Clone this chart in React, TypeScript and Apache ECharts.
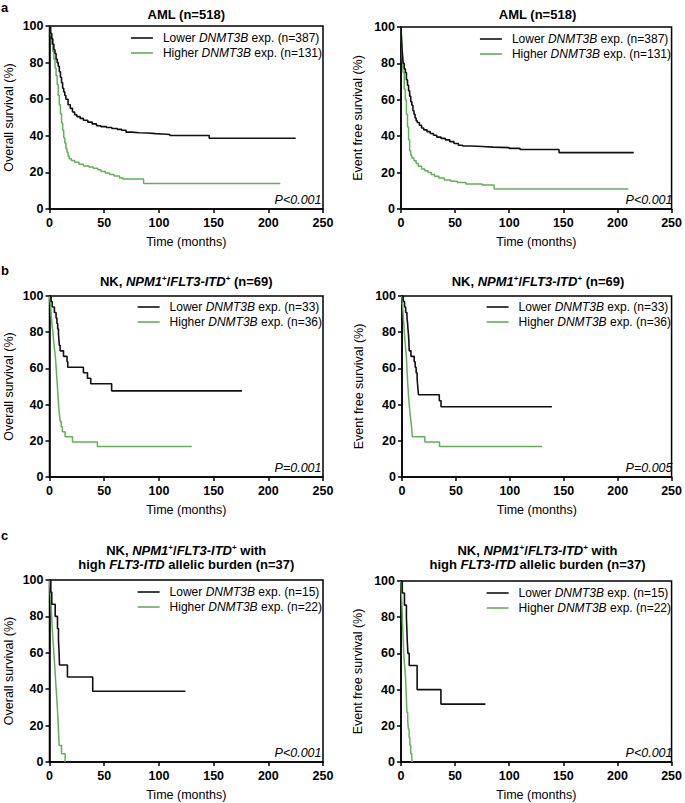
import React, { useEffect, useRef } from "react";
import * as echarts from "echarts";

const FONT = "'Liberation Sans', Arial, Helvetica, sans-serif";
const BLACK = "#111111";
const GREEN = "#62b058";

// x-axis (months) and y-axis (%) ticks
const xTicks = [0, 50, 100, 150, 200, 250];
const yTicks = [0, 20, 40, 60, 80, 100];

// ---- Panel a: AML (n=518) ----
const osA_lower: number[][] = [
  [0, 100], [1, 96], [2, 93], [3, 90], [4, 87], [5, 85], [6, 82], [7, 80], [8, 78], [9, 75],
  [10, 72], [11, 69], [12, 66], [13, 64], [14, 62], [15, 60], [17, 57], [19, 55], [21, 53],
  [23, 51.5], [25, 50.5], [28, 49.5], [31, 48.5], [35, 47.5], [39, 46.5], [43, 45.5], [47, 45],
  [52, 44.5], [57, 44], [62, 43.5], [66, 43], [70, 42], [75, 41.7], [82, 41.5], [90, 41.2],
  [97, 41], [103, 40.7], [110, 40.2], [146, 38.7], [225, 38.7],
];
const osA_higher: number[][] = [
  [0, 100], [1, 95], [2, 90], [3, 86], [4, 82], [5, 77], [6, 73], [7, 68], [8, 62], [9, 57],
  [10, 52], [11, 47], [12, 43], [13, 39], [14, 36], [15, 33], [16, 31], [17, 29], [18, 27.5],
  [20, 26.5], [23, 25.5], [27, 24.5], [31, 23.5], [36, 23], [40, 22.2], [44, 21.5], [47, 20.5],
  [51, 19.7], [55, 18.8], [59, 18], [64, 17], [67, 16.4], [86, 14], [211, 14],
];
const efsA_lower: number[][] = [
  [0, 100], [0.5, 93], [1, 88], [1.5, 84], [2, 80], [3, 77], [4, 75], [5, 71], [6, 68], [7, 65],
  [8, 62], [9, 59], [10, 57], [11, 54], [12, 52], [13, 50], [14, 48.5], [15, 47.5], [17, 46],
  [19, 44.5], [21, 43.5], [24, 42.5], [27, 41.5], [30, 40.5], [33, 39.5], [37, 38.8], [41, 38],
  [45, 37], [49, 36], [53, 35], [57, 34.6], [65, 34.3], [75, 34], [85, 33.7], [100, 33.3],
  [110, 32.7], [146, 31], [215, 31],
];
const efsA_higher: number[][] = [
  [0, 100], [0.5, 92], [1, 85], [1.5, 80], [2, 75], [3, 66], [4, 60], [5, 52], [6, 45], [7, 38],
  [8, 32], [9, 29.5], [10, 28], [12, 26.5], [14, 25], [16, 23.5], [19, 22], [22, 21], [25, 20],
  [28, 19], [31, 18], [35, 17], [40, 16], [46, 15.2], [52, 14.5], [60, 13.8], [75, 13.2],
  [86, 11], [210, 11],
];

// ---- Panel b: NK, NPM1+/FLT3-ITD+ (n=69) ----
const osB_lower: number[][] = [
  [0, 100], [1.5, 96.97], [2.5, 93.94], [4.5, 90.91], [6, 87.88], [6.8, 84.85], [7.5, 81.82],
  [8.2, 78.79], [8.6, 75.76], [9, 72.73], [9.7, 69.7], [12.8, 66.67], [16, 63.64], [16.7, 60.61],
  [31, 57.58], [34.7, 54.55], [37.7, 51.52], [56.8, 47.6], [176, 47.6],
];
const osB_higher: number[][] = [
  [0, 100], [0.5, 97.2], [1, 94.4], [1.3, 91.7], [1.6, 88.9], [2, 86.1], [2.5, 83.3], [3, 80.6],
  [3.4, 77.8], [3.8, 75], [4.3, 72.2], [4.8, 69.4], [5.3, 66.7], [5.7, 63.9], [6, 61.1],
  [6.3, 58.3], [6.6, 55.6], [6.9, 52.8], [7.2, 50], [7.5, 47.2], [7.8, 44.4], [8.1, 41.7],
  [8.4, 38.9], [8.8, 36.1], [9.3, 33.3], [9.9, 30.6], [10.7, 27.8], [11.8, 25], [14.3, 22.2],
  [21, 19.4], [43.8, 16.9], [130, 16.9],
];
const efsB_lower: number[][] = [
  [0, 100], [1.2, 96.97], [2.4, 93.94], [3.4, 90.91], [4.6, 87.88], [5.2, 84.85], [5.5, 81.82],
  [6, 78.79], [6.3, 75.76], [6.5, 72.73], [6.7, 69.7], [8.3, 66.67], [11.3, 63.64], [12.2, 60.61],
  [13.1, 57.58], [14, 54.55], [14.4, 51.52], [14.8, 48.48], [15.3, 45.45], [34.6, 42.1],
  [36.2, 38.8], [139, 38.8],
];
const efsB_higher: number[][] = [
  [0, 100], [0.3, 97.2], [0.6, 94.4], [0.9, 91.7], [1.2, 88.9], [1.5, 86.1], [1.8, 83.3],
  [2.1, 80.6], [2.4, 77.8], [2.8, 75], [3.2, 72.2], [3.6, 69.4], [4, 66.7], [4.3, 63.9],
  [4.5, 61.1], [4.7, 58.3], [5, 55.6], [5.2, 52.8], [5.5, 50], [5.8, 47.2], [6.1, 44.4],
  [6.5, 41.7], [6.9, 38.9], [7.3, 36.1], [7.8, 33.3], [8.3, 30.6], [8.8, 27.8], [9.2, 25],
  [9.6, 22.2], [21.2, 19.4], [34.8, 16.9], [130, 16.9],
];

// ---- Panel c: high FLT3-ITD allelic burden (n=37) ----
const osC_lower: number[][] = [
  [0, 100], [1.2, 93.33], [2.1, 86.67], [5.2, 80], [7.3, 73.33], [8.2, 66.67], [8.8, 60],
  [9.1, 53.33], [16.4, 46.67], [39.5, 38.9], [124.3, 38.9],
];
const osC_higher: number[][] = [
  [0, 100], [0.5, 95.45], [1, 90.9], [1.5, 86.4], [1.8, 81.8], [2.2, 77.3], [2.6, 72.7],
  [3, 68.2], [3.6, 63.6], [4.1, 59.1], [4.6, 54.5], [5.1, 50], [5.5, 45.5], [6, 40.9],
  [6.5, 36.4], [7, 31.8], [7.4, 27.3], [7.8, 22.7], [8.1, 18.2], [8.5, 13.6], [8.8, 9.1],
  [11, 4.5], [14.3, 0],
];
const efsC_lower: number[][] = [
  [0, 100], [1.2, 93.33], [3.2, 86.67], [5, 80], [5.4, 73.33], [5.8, 66.67], [6.4, 60],
  [7.6, 53.33], [14.9, 40], [36.9, 32], [78, 32],
];
const efsC_higher: number[][] = [
  [0, 100], [0.3, 95.45], [0.6, 90.9], [0.9, 86.4], [1.2, 81.8], [1.4, 77.3], [1.7, 72.7],
  [2, 68.2], [2.3, 63.6], [2.6, 59.1], [3.2, 54.5], [3.8, 50], [4.3, 45.5], [4.6, 40.9],
  [4.9, 36.4], [5.2, 31.8], [5.5, 27.3], [6.2, 22.7], [6.8, 18.2], [7.5, 13.6], [8.2, 9.1],
  [9, 4.5], [10, 0],
];

// legend labels
const lowerA = "Lower DNMT3B exp. (n=387)";
const higherA = "Higher DNMT3B exp. (n=131)";
const lowerB = "Lower DNMT3B exp. (n=33)";
const higherB = "Higher DNMT3B exp. (n=36)";
const lowerC = "Lower DNMT3B exp. (n=15)";
const higherC = "Higher DNMT3B exp. (n=22)";

const titleA = "{b|AML (n=518)}";
const titleB = "{b|NK, }{bi|NPM1}{sup|+}{b|/}{bi|FLT3-ITD}{sup|+}{b| (n=69)}";
const titleC =
  "{b|NK, }{bi|NPM1}{sup|+}{b|/}{bi|FLT3-ITD}{sup|+}{b| with}\n{b|high }{bi|FLT3-ITD}{b| allelic burden (n=37)}";

const OS = "Overall survival (%)";
const EFS = "Event free survival (%)";

const panels = [
  { grid: { left: 49.5, top: 26, width: 273.5, height: 183 }, yName: OS, yGap: 34, lower: osA_lower, higher: osA_higher, ln: lowerA, hn: higherA, legendTop: 31, legendRight: 363, title: titleA, titleY: 14, p: "P<0.001" },
  { grid: { left: 401, top: 27, width: 273, height: 182 }, yName: EFS, yGap: 37, lower: efsA_lower, higher: efsA_higher, ln: lowerA, hn: higherA, legendTop: 32, legendRight: 14, title: titleA, titleY: 14, p: "P<0.001" },
  { grid: { left: 49.5, top: 296, width: 273.5, height: 181 }, yName: OS, yGap: 34, lower: osB_lower, higher: osB_higher, ln: lowerB, hn: higherB, legendTop: 300, legendRight: 363, title: titleB, titleY: 281, p: "P=0.001" },
  { grid: { left: 402, top: 296, width: 272, height: 181 }, yName: EFS, yGap: 37, lower: efsB_lower, higher: efsB_higher, ln: lowerB, hn: higherB, legendTop: 300, legendRight: 14, title: titleB, titleY: 281, p: "P=0.005" },
  { grid: { left: 49.5, top: 580, width: 273.5, height: 182 }, yName: OS, yGap: 34, lower: osC_lower, higher: osC_higher, ln: lowerC, hn: higherC, legendTop: 585, legendRight: 363, title: titleC, titleY: 557, p: "P<0.001" },
  { grid: { left: 401, top: 581, width: 273, height: 181 }, yName: EFS, yGap: 37, lower: efsC_lower, higher: efsC_higher, ln: lowerC, hn: higherC, legendTop: 586, legendRight: 14, title: titleC, titleY: 557, p: "P<0.001" },
];

const titleRich = {
  b: { fontFamily: FONT, fontSize: 13, fontWeight: "bold", fill: "#000", lineHeight: 14 },
  bi: { fontFamily: FONT, fontSize: 13, fontWeight: "bold", fontStyle: "italic", fill: "#000", lineHeight: 14 },
  sup: { fontFamily: FONT, fontSize: 8, fontWeight: "bold", fill: "#000", verticalAlign: "top" },
};

function buildOption() {
  const grid: any[] = [];
  const xAxis: any[] = [];
  const yAxis: any[] = [];
  const series: any[] = [];
  const legend: any[] = [];
  const graphic: any[] = [];

  panels.forEach((p, i) => {
    grid.push({ ...p.grid, show: true, borderColor: "#000", borderWidth: 1.5, backgroundColor: "transparent" });
    xAxis.push({
      gridIndex: i, type: "value", min: xTicks[0], max: xTicks[xTicks.length - 1], interval: 50,
      axisLine: { show: true, onZero: false, lineStyle: { color: "#000", width: 1.5 } },
      axisTick: { show: true, length: 4, lineStyle: { color: "#000", width: 1.5 } },
      axisLabel: { color: "#000", fontWeight: "bold", fontSize: 12.5, fontFamily: FONT, margin: 7 },
      splitLine: { show: false },
      name: "Time (months)", nameLocation: "middle", nameGap: 26,
      nameTextStyle: { color: "#000", fontSize: 12.5, fontFamily: FONT },
    });
    yAxis.push({
      gridIndex: i, type: "value", min: yTicks[0], max: yTicks[yTicks.length - 1], interval: 20,
      axisLine: { show: true, onZero: false, lineStyle: { color: "#000", width: 1.5 } },
      axisTick: { show: true, length: 4, lineStyle: { color: "#000", width: 1.5 } },
      axisLabel: { color: "#000", fontWeight: "bold", fontSize: 12.5, fontFamily: FONT, margin: 6 },
      splitLine: { show: false },
      name: p.yName, nameLocation: "middle", nameGap: p.yGap,
      nameTextStyle: { color: "#000", fontSize: 12.5, fontFamily: FONT },
    });
    series.push({
      type: "line", name: p.hn, xAxisIndex: i, yAxisIndex: i, data: p.higher, step: "end",
      symbol: "none", lineStyle: { color: GREEN, width: 1.5 }, itemStyle: { color: GREEN }, silent: true, z: 2,
    });
    series.push({
      type: "line", name: p.ln, xAxisIndex: i, yAxisIndex: i, data: p.lower, step: "end",
      symbol: "none", lineStyle: { color: BLACK, width: 1.6 }, itemStyle: { color: BLACK }, silent: true, z: 3,
    });
    legend.push({
      right: p.legendRight, top: p.legendTop, padding: 0, orient: "vertical", icon: "rect", itemWidth: 22, itemHeight: 1.6,
      itemGap: 1, selectedMode: false, data: [p.ln, p.hn],
      formatter: (name: string) => name.replace("DNMT3B", "{i|DNMT3B}"),
      textStyle: {
        color: "#000", fontSize: 12, fontFamily: FONT, padding: [0, 0, 0, 5], lineHeight: 14,
        rich: { i: { color: "#000", fontSize: 12, fontFamily: FONT, fontStyle: "italic", lineHeight: 14 } },
      },
    });
    const cx = p.grid.left + p.grid.width / 2;
    graphic.push({
      type: "text", x: cx, y: p.titleY,
      style: { text: p.title, rich: titleRich, align: "center", verticalAlign: "middle", textAlign: "center", textVerticalAlign: "middle", fill: "#000" },
    });
    graphic.push({
      type: "text", x: p.grid.left + p.grid.width - 1.5, y: p.grid.top + p.grid.height - 9,
      style: { text: p.p, font: `italic 12.5px ${FONT}`, fill: "#000", align: "right", verticalAlign: "middle", textAlign: "right", textVerticalAlign: "middle" },
    });
  });

  const letters = [["a", 7], ["b", 270], ["c", 535]];
  letters.forEach(([t, y]) => {
    graphic.push({
      type: "text", x: 1, y: y as number,
      style: { text: t as string, font: `bold 13px ${FONT}`, fill: "#000", align: "left", verticalAlign: "middle", textAlign: "left", textVerticalAlign: "middle" },
    });
  });

  return { animation: false, backgroundColor: "#fff", grid, xAxis, yAxis, series, legend, graphic };
}

export default function App() {
  const ref = useRef<HTMLDivElement>(null);
  useEffect(() => {
    const chart = echarts.init(ref.current!, null, { renderer: "svg" });
    chart.setOption(buildOption() as any);
    return () => chart.dispose();
  }, []);
  return (
    <div
      ref={ref}
      style={{ position: "absolute", left: 0, top: 0, width: 685, height: 803, background: "#fff" }}
    />
  );
}
